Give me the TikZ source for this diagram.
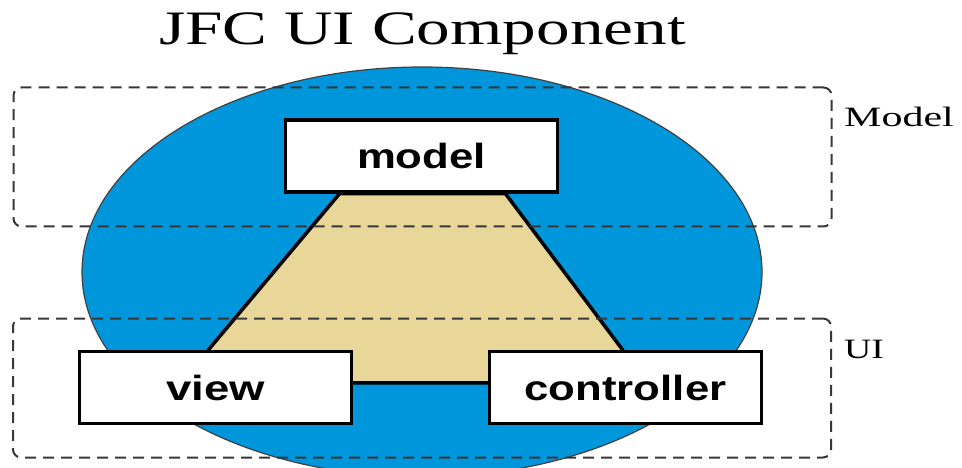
\documentclass[tikz,border=0pt]{standalone}
\usepackage{fontspec}
\setmainfont{Liberation Serif}
\newfontfamily\boxfont{Liberation Sans}
\usetikzlibrary{calc,positioning,backgrounds}
\definecolor{ovalblue}{RGB}{0,150,220}
\definecolor{trapeze}{RGB}{233,215,153}
\definecolor{dashgray}{RGB}{55,55,55}

\begin{document}
\begin{tikzpicture}[x=1pt,y=-1pt]
\tikzset{boite/.style={draw, line width=3.5pt, fill=white, minimum width=272pt, minimum height=72pt, inner sep=0pt, font=\boxfont\bfseries\fontsize{35}{40}\selectfont}}
\tikzset{cadre/.style={draw=dashgray, line width=2pt, dash pattern=on 11pt off 7pt, rounded corners=8pt, minimum width=818pt, minimum height=139pt, inner sep=0pt}}
\tikzset{etiquette/.style={font=\fontsize{28}{32}\selectfont, inner sep=0pt, anchor=base west}}
\useasboundingbox (0,0) rectangle (962,468);
\node[anchor=base, inner sep=0pt, font=\fontsize{48}{56}\selectfont] (titre) at (422.5,45) {\scalebox{1.4}[1]{JFC UI Component}};
\node[cadre] (zoneModel) at (422.5,157) {};
\node[cadre] (zoneUI) at (422,388) {};
\node[boite] (model) at (421.5,156) {\scalebox{1.25}[1]{model}};
\node[boite] (view) at (215.5,387.5) {\scalebox{1.3}[1]{view}};
\node[boite] (controller) at (625.5,387.5) {\scalebox{1.25}[1]{controller}};
\node[etiquette] (lblModel) at (844,127) {\scalebox{1.5}[1]{Model}};
\node[etiquette] (lblUI) at (844,358) {\scalebox{1.35}[1]{UI}};
\begin{scope}[on background layer]
\clip (0,0) rectangle (962,468);
\filldraw[fill=ovalblue, draw=black!75, line width=1.2pt] (422,272) ellipse [x radius=340, y radius=205];
\filldraw[fill=trapeze, line width=3.5pt, line join=miter]
  ($(model.south)+(-82,0)$) -- ($(model.south)+(84,0)$)
  -- ($(controller.north)+(-3,0)$) -- ($(controller.north)+(-3,33)$)
  -- ($(view.north)+(-7,33)$) -- ($(view.north)+(-7,0)$) -- cycle;
\end{scope}
\end{tikzpicture}
\end{document}
